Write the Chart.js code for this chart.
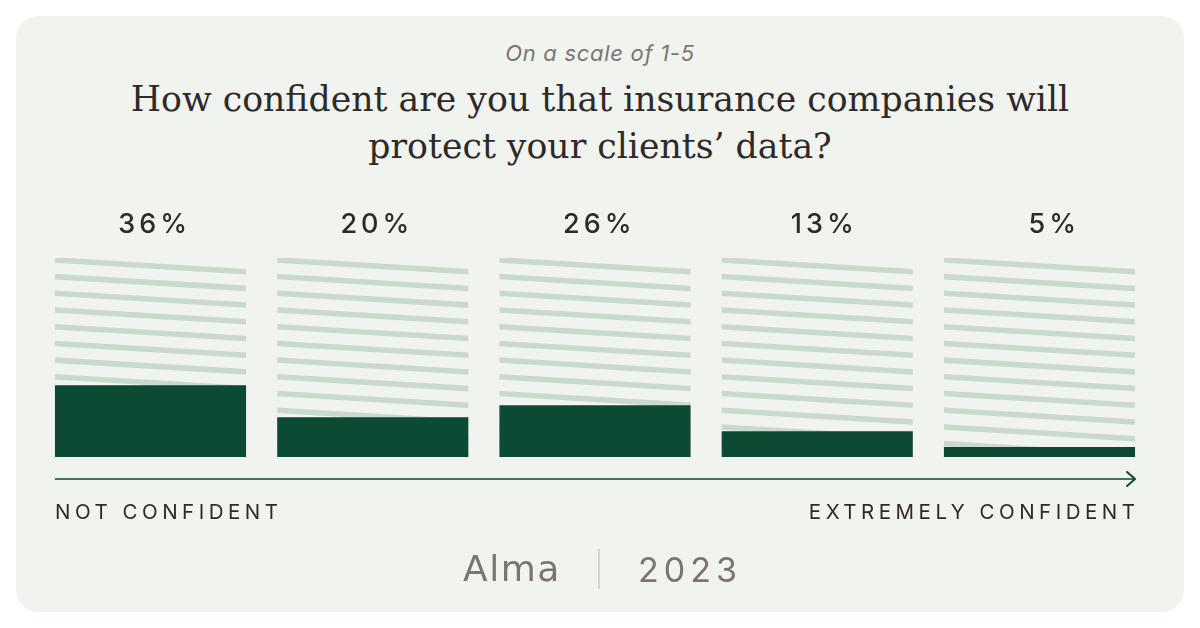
<!DOCTYPE html>
<html>
<head>
<meta charset="utf-8">
<script src="https://cdn.jsdelivr.net/npm/chart.js@4"></script>
<style>
  html, body { margin: 0; padding: 0; background: #ffffff; }
  body { width: 1200px; height: 628px; position: relative; overflow: hidden; font-family: Inter, "Noto Sans", sans-serif; }
  .card { position: absolute; left: 16px; top: 16px; width: 1168px; height: 596px; border-radius: 22px; background: #f1f3ef; }
  .sub { position: absolute; left: 0; width: 1200px; top: 40px; text-align: center; font-style: italic; font-size: 22px; color: #7a7572; letter-spacing: 0.7px; }
  .title { position: absolute; left: 0; width: 1200px; top: 76px; text-align: center; font-family: "DejaVu Serif", serif; font-size: 34.7px; line-height: 47px; color: #2d2a28; }
  #wrap { position: absolute; left: 0; top: 0; width: 1200px; height: 628px; }
  .axl { position: absolute; top: 499px; font-size: 20.5px; letter-spacing: 4.5px; color: #2d2a28; }
  .footer { position: absolute; top: 549px; font-size: 34px; color: #7b7571; }
  .sep { position: absolute; left: 598px; top: 549px; width: 2px; height: 40px; background: #d4d3ce; }
</style>
</head>
<body>
<div class="card"></div>
<div class="sub">On a scale of 1-5</div>
<div class="title">How confident are you that insurance companies will<br>protect your clients’ data?</div>
<div id="wrap"><canvas id="c"></canvas></div>
<div class="axl" style="left:55px;">NOT CONFIDENT</div>
<div class="axl" style="right:60.5px;">EXTREMELY CONFIDENT</div>
<div class="footer" style="left:463px; top:548px; font-family: 'DejaVu Sans', sans-serif; font-size: 36px; letter-spacing: 1.5px;">Alma</div>
<div class="sep"></div>
<div class="footer" style="left:638px; letter-spacing:5px; font-weight:400;">2023</div>
<script>
const categories = ['1', '2', '3', '4', '5'];
const values = [36, 20, 26, 13, 5];
const pctLabels = ['36%', '20%', '26%', '13%', '5%'];
const fullScale = [100, 100, 100, 100, 100];

const DARK = '#0d4a34';
const STRIPE = '#c9d9cc';

const stripePlugin = {
  id: 'stripes',
  afterDatasetDraw(chart, args) {
    if (args.index !== 1) return;
    const ctx = chart.ctx;
    const meta = args.meta;
    meta.data.forEach(el => {
      const p = el.getProps(['x', 'y', 'base', 'width'], true);
      const left = p.x - p.width / 2;
      const top = Math.min(p.y, p.base), bottom = Math.max(p.y, p.base);
      ctx.save();
      ctx.beginPath();
      ctx.rect(left, top, p.width, bottom - top);
      ctx.clip();
      ctx.strokeStyle = STRIPE;
      ctx.lineWidth = 5.5;
      const spacing = 16.7;
      const drop = 12 / 191 * p.width;
      for (let k = -2; k < (bottom - top) / spacing + 2; k++) {
        const y0 = top + 1.8 + k * spacing;
        ctx.beginPath();
        ctx.moveTo(left - 2, y0);
        ctx.lineTo(left + p.width + 2, y0 + drop);
        ctx.stroke();
      }
      ctx.restore();
    });
  }
};

const labelPlugin = {
  id: 'pctLabels',
  afterDraw(chart) {
    const ctx = chart.ctx;
    const meta = chart.getDatasetMeta(1);
    const area = chart.chartArea;
    ctx.save();
    ctx.font = '500 27px Inter, sans-serif';
    ctx.fillStyle = '#2d2a28';
    ctx.textAlign = 'right';
    ctx.textBaseline = 'alphabetic';
    const ls = 4;
    ctx.letterSpacing = ls + 'px';
    meta.data.forEach((el, i) => {
      const right = el.x + el.width / 2;
      ctx.fillText(pctLabels[i], right - 59 + ls, area.top - 25);
    });
    // arrow
    const first = meta.data[0], last = meta.data[meta.data.length - 1];
    const x0 = first.x - first.width / 2;
    const x1 = last.x + last.width / 2;
    const ay = area.bottom + 22;
    ctx.strokeStyle = DARK;
    ctx.lineWidth = 1.6;
    ctx.beginPath();
    ctx.moveTo(x0, ay);
    ctx.lineTo(x1, ay);
    ctx.stroke();
    ctx.lineWidth = 2;
    ctx.lineCap = 'round';
    ctx.lineJoin = 'round';
    ctx.beginPath();
    ctx.moveTo(x1 - 8, ay - 7);
    ctx.lineTo(x1, ay);
    ctx.lineTo(x1 - 8, ay + 7);
    ctx.stroke();
    ctx.restore();
  }
};

new Chart(document.getElementById('c'), {
  type: 'bar',
  data: {
    labels: categories,
    datasets: [
      { data: values, backgroundColor: DARK, order: 0, grouped: false, barPercentage: 1, categoryPercentage: 0.86 },
      { data: fullScale, backgroundColor: 'rgba(0,0,0,0)', order: 1, grouped: false, barPercentage: 1, categoryPercentage: 0.86 }
    ]
  },
  options: {
    responsive: true,
    maintainAspectRatio: false,
    animation: false,
    events: [],
    layout: { padding: { left: 39.4, right: 49.4, top: 258, bottom: 171 } },
    plugins: { legend: { display: false }, tooltip: { enabled: false }, title: { display: false } },
    scales: {
      x: { display: false },
      y: { display: false, min: 0, max: 100 }
    }
  },
  plugins: [stripePlugin, labelPlugin]
});
</script>
</body>
</html>
